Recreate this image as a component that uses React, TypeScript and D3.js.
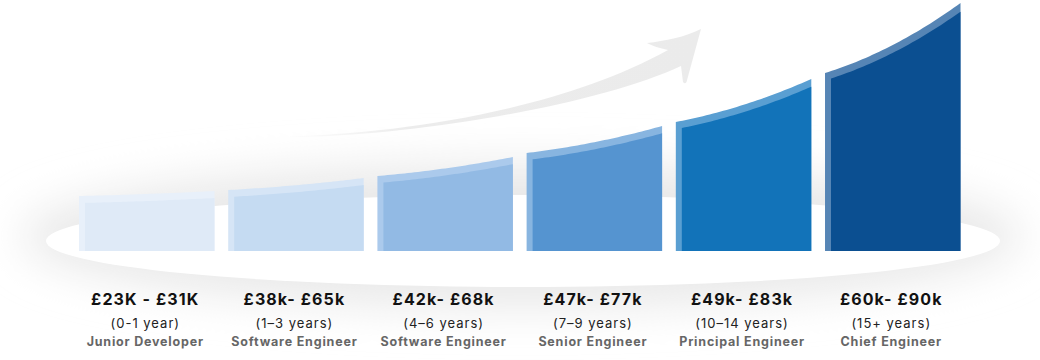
import React from "react";
import * as d3 from "d3";

const salaryLabels = ["£23K - £31K", "£38k- £65k", "£42k- £68k", "£47k- £77k", "£49k- £83k", "£60k- £90k"];
const experienceLabels = ["(0-1 year)", "(1–3 years)", "(4–6 years)", "(7–9 years)", "(10–14 years)", "(15+ years)"];
const roleLabels = ["Junior Developer", "Software Engineer", "Software Engineer", "Senior Engineer", "Principal Engineer", "Chief Engineer"];
// growth level at the left and right edge of each step
const growthStart = [55, 61, 75, 98, 129, 178];
const growthEnd = [60, 73, 94, 125, 172, 248];
const fillColors = ["#dfeaf7", "#c5dbf2", "#92bae4", "#5594d0", "#1273b9", "#0b4f91"];
const rimColors = ["#e8f0fa", "#d6e5f6", "#abcaec", "#88b5e0", "#5a9fd2", "#5685b5"];

const W = 1040;
const H = 360;

export default function App() {
  const idx = d3.range(salaryLabels.length);
  const x = d3.scaleBand<number>().domain(idx).range([79, 960.5]).paddingInner(0.092).paddingOuter(0);
  const y = d3.scaleLinear().domain([0, 250]).range([251, 1]);
  const bw = x.bandwidth();
  const line = d3.line<[number, number]>();
  const rim = 6;
  const off = 7;

  const bars = idx.map((i) => {
    const x0 = x(i)!;
    const x1 = x0 + bw;
    const yL = y(growthStart[i]);
    const yR = y(growthEnd[i]);
    const sag = 0.1 * (yL - yR);
    const cy = (yL + yR) / 2 + 2 * sag;
    const fy = (t: number) => (1 - t) * (1 - t) * yL + 2 * t * (1 - t) * cy + t * t * yR;
    const dy = (t: number) => (2 * (1 - t) * (cy - yL) + 2 * t * (yR - cy)) / (x1 - x0);
    const base = y(0);
    const N = 40;
    const outerTop: [number, number][] = d3.range(N + 1).map((k) => {
      const t = k / N;
      return [x0 + t * (x1 - x0), fy(t)];
    });
    const t0 = rim / (x1 - x0);
    const innerTop: [number, number][] = d3.range(N + 1).map((k) => {
      const t = t0 + (k / N) * (1 - t0);
      const s = dy(t);
      return [x0 + t * (x1 - x0), fy(t) + off * Math.sqrt(1 + s * s)];
    });
    const outer = line([[x0, base], ...outerTop, [x1, base]]) + "Z";
    const inner = line([[x0 + rim, base], ...innerTop, [x1, base]]) + "Z";
    return { i, outer, inner, cx: x0 + bw / 2 };
  });

  const arrow =
    "M283,136.6 C400,134 560,110 668,50 C660,48 652,46 647,43 C665,41 685,37 701,29 L686.5,82 Q685,84.5 683,82 L681,66 C600,104 420,135 300,137 Z";

  return (
    <svg width={W} height={H} style={{ position: "absolute", left: 0, top: 0, background: "#fff" }} fontFamily="Inter, 'Open Sans', sans-serif">
      <defs>
        <filter id="halo" x="-20%" y="-80%" width="140%" height="260%">
          <feGaussianBlur stdDeviation="22" />
        </filter>
        <linearGradient id="arrowGrad" x1="283" y1="0" x2="700" y2="0" gradientUnits="userSpaceOnUse">
          <stop offset="0" stopColor="#ececec" stopOpacity="0" />
          <stop offset="0.3" stopColor="#ececec" stopOpacity="1" />
          <stop offset="1" stopColor="#ebebeb" />
        </linearGradient>
      </defs>
      <ellipse cx={522} cy={236} rx={500} ry={72} fill="#e9e9e9" filter="url(#halo)" />
      <ellipse cx={523} cy={241} rx={477} ry={46} fill="#ffffff" />
      <path d={arrow} fill="url(#arrowGrad)" />
      {bars.map((b) => (
        <g key={b.i}>
          <path d={b.outer} fill={rimColors[b.i]} />
          <path d={b.inner} fill={fillColors[b.i]} />
        </g>
      ))}
      {bars.map((b) => (
        <g key={"t" + b.i} textAnchor="middle">
          <text x={b.cx - 1.5} y={304.5} fontSize={16} fontWeight={700} fill="#111" letterSpacing={1.1}>
            {salaryLabels[b.i]}
          </text>
          <text x={b.cx - 1.5} y={327.5} fontSize={13} fill="#222" letterSpacing={1}>
            {experienceLabels[b.i]}
          </text>
          <text x={b.cx - 1.5} y={346} fontSize={12.5} fontWeight={700} fill="#666" letterSpacing={0.8}>
            {roleLabels[b.i]}
          </text>
        </g>
      ))}
    </svg>
  );
}
